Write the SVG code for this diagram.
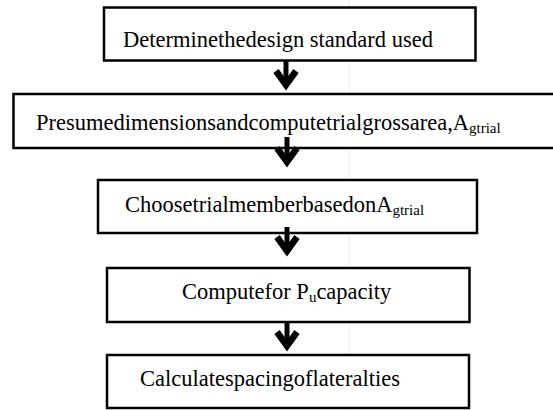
<svg xmlns="http://www.w3.org/2000/svg" width="553" height="410" viewBox="0 0 553 410">
  <style>
    .box { fill: #ffffff; stroke: #000000; stroke-width: 2.5; }
    .label { font-family: "Liberation Serif", "Times New Roman", serif; font-size: 22.5px; fill: #000000; }
    .sub { font-size: 15px; }
    .shaft { stroke: #000000; stroke-width: 5; fill: none; }
    .head { stroke: #000000; stroke-width: 6.5; fill: none; stroke-linejoin: miter; stroke-miterlimit: 10; }
    .grid { stroke: #efefef; stroke-width: 1; }
  </style>
  <defs>
    <!-- bold chevron arrowhead, tip at the origin -->
    <g id="arrowhead">
      <polyline class="head" points="-10,-20 0,-6 10,-20"/>
    </g>
  </defs>

  <rect width="553" height="410" fill="#ffffff"/>
  <line class="grid" x1="349.5" y1="0" x2="349.5" y2="410"/>

  <g id="node-standard">
    <rect class="box" x="104" y="7.5" width="371.5" height="53"/>
    <text class="label" x="123" y="47">Determinethedesign standard used</text>
  </g>

  <g id="node-dimensions">
    <rect class="box" x="13.5" y="94" width="560" height="54"/>
    <text class="label" x="36" y="130">Presumedimensionsandcomputetrialgrossarea,A<tspan class="sub" dy="3">gtrial</tspan></text>
  </g>

  <g id="node-member">
    <rect class="box" x="98" y="180" width="379" height="53"/>
    <text class="label" x="125" y="212">ChoosetrialmemberbasedonA<tspan class="sub" dy="3">gtrial</tspan></text>
  </g>

  <g id="node-capacity">
    <rect class="box" x="107" y="268" width="362.5" height="54"/>
    <text class="label" x="182" y="299">Computefor P<tspan class="sub" dy="3">u</tspan><tspan dy="-3">capacity</tspan></text>
  </g>

  <g id="node-ties">
    <rect class="box" x="107" y="355" width="362" height="53"/>
    <text class="label" x="140" y="386">Calculatespacingoflateralties</text>
  </g>

  <g id="connectors">
    <line class="shaft" x1="286" y1="61" x2="286" y2="86"/>
    <use href="#arrowhead" transform="translate(286,91)"/>

    <line class="shaft" x1="287" y1="137" x2="287" y2="163"/>
    <use href="#arrowhead" transform="translate(287,168)"/>

    <line class="shaft" x1="287" y1="227" x2="287" y2="252"/>
    <use href="#arrowhead" transform="translate(287,257)"/>

    <line class="shaft" x1="287" y1="322" x2="287" y2="347"/>
    <use href="#arrowhead" transform="translate(287,352)"/>
  </g>
</svg>
